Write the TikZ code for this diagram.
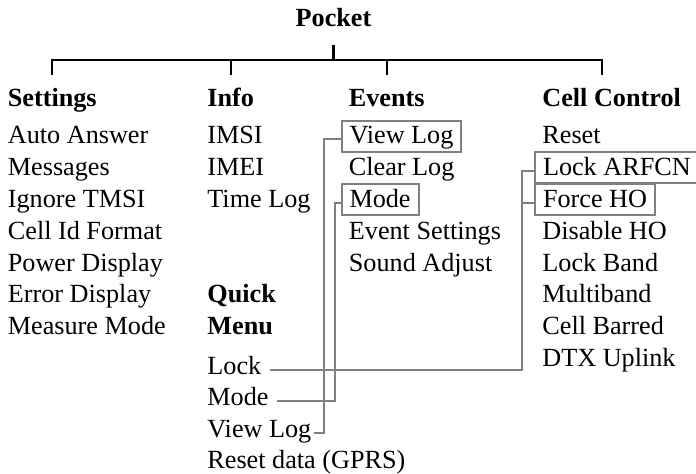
\documentclass[tikz,border=0pt]{standalone}
\usepackage{fontspec}
\setmainfont{Liberation Serif}
\definecolor{linkgray}{RGB}{128,128,128}
\newcommand{\diagfont}{\fontsize{13.1}{15.7}\selectfont}

\begin{document}
\begin{tikzpicture}[x=0.5pt, y=-0.5pt, font=\diagfont,
    item/.style={anchor=base west, inner xsep=4pt, inner ysep=0pt,
      text height=11.65pt, text depth=3.85pt},
    head/.style={item, font=\diagfont\bfseries},
    boxed/.style={draw=linkgray, line width=1pt},
    tree/.style={line width=1.1pt},
    link/.style={linkgray, line width=1pt}]
  \useasboundingbox (0,0) rectangle (696,474);
  % racine
  \node[head, anchor=base, inner ysep=5.15pt] (pocket) at (333.5,27) {Pocket};
  % en-tetes
  \node[head] (settings) at (-0.5,107) {Settings};
  \node[head] (info) at (199,107) {Info};
  \node[head] (events) at (340.5,107) {Events};
  \node[head] (cellctl) at (534,107) {Cell Control};
  % arbre
  \coordinate (bus) at (0,60);
  \coordinate (tick) at (0,75);
  \draw[tree] (pocket.south) -- (pocket.south |- bus);
  \draw[tree] (settings.north |- tick) |- ([xshift=-5pt]cellctl.north |- bus)
    -- ([xshift=-5pt]cellctl.north |- tick);
  \foreach \h in {info, events}
    \draw[tree] (\h.north |- tick) -- (\h.north |- bus);
  % settings
  \foreach \t [count=\i] in {Auto Answer, Messages, Ignore TMSI, Cell Id Format,
      Power Display, Error Display, Measure Mode}
    \node[item] (set\i) at (-0.5,{144+31.8*(\i-1)}) {\t};
  % info
  \foreach \t [count=\i] in {IMSI, IMEI, Time Log}
    \node[item] (inf\i) at (199,{144+31.8*(\i-1)}) {\t};
  % quick menu
  \node[head] (quick) at (199,303) {Quick};
  \node[head] (menu) at (199,334.8) {Menu};
  \foreach \t/\n [count=\i] in {Lock/qlock, Mode/qmode, View Log/qvlog,
      Reset data (GPRS)/qreset}
    \node[item] (\n) at (199,{374.5+31.3*(\i-1)}) {\t};
  % events
  \node[item, boxed] (evlog) at (340.5,144) {View Log};
  \node[item] (evclear) at (340.5,175.8) {Clear Log};
  \node[item, boxed] (evmode) at (340.5,207.6) {Mode};
  \node[item] (evsettings) at (340.5,239.4) {Event Settings};
  \node[item] (evsound) at (340.5,271.2) {Sound Adjust};
  % cell control
  \node[item] (ccreset) at (534,144) {Reset};
  \node[item, boxed] (cclock) at (534,175.8) {Lock ARFCN};
  \node[item, boxed] (ccforce) at (534,207.6) {Force HO};
  \foreach \t [count=\i from 4] in {Disable HO, Lock Band, Multiband,
      Cell Barred, DTX Uplink}
    \node[item] (cc\i) at (534,{144+31.8*(\i-1)}) {\t};
  % liens
  \coordinate (vlx) at (323.5,0);
  \coordinate (mdx) at (335,0);
  \coordinate (lkx) at (522,0);
  \draw[link] ([xshift=-2.75pt]qvlog.mid east) -| (vlx |- evlog.mid west)
    -- (evlog.mid west);
  \draw[link] (qmode.mid east) -| (mdx |- evmode.mid west) -- (evmode.mid west);
  \draw[link] (qlock.mid east) -| (lkx |- cclock.mid west) -- (cclock.mid west);
  \draw[link] (lkx |- ccforce.mid west) -- (ccforce.mid west);
\end{tikzpicture}
\end{document}
